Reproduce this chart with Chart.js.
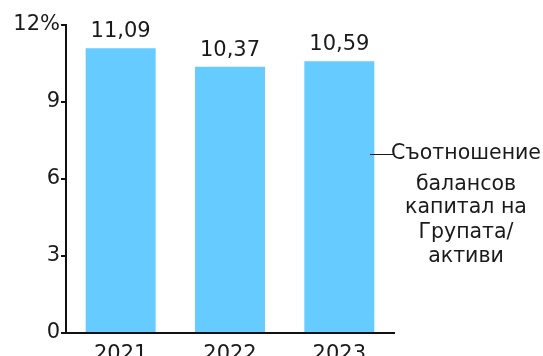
<!DOCTYPE html>
<html><head><meta charset="utf-8">
<script src="https://cdn.jsdelivr.net/npm/chart.js@4/dist/chart.umd.min.js"></script>
<style>html,body{margin:0;padding:0;background:#fff}#w{width:543px;height:356px}</style>
</head><body><div id="w"><canvas id="c" width="543" height="356"></canvas></div>
<script>
const categories = ['2021', '2022', '2023'];
const values = [11.09, 10.37, 10.59];
const yTicks = [0, 3, 6, 9, 12];
const seriesLabelLines = ['Съотношение', 'балансов', 'капитал на', 'Групата/', 'активи'];

const FONT = "'DejaVu Sans', Verdana, sans-serif";
const fmt = v => v.toFixed(2).replace('.', ',');

const dataLabels = {
  id: 'dataLabels',
  afterDatasetsDraw(chart) {
    const ctx = chart.ctx;
    const meta = chart.getDatasetMeta(0);
    ctx.save();
    ctx.font = '21px ' + FONT;
    ctx.fillStyle = '#1a1a1a';
    ctx.textAlign = 'center';
    ctx.textBaseline = 'bottom';
    meta.data.forEach((bar, i) => {
      ctx.fillText(fmt(values[i]), bar.x, bar.y - 6);
    });
    ctx.restore();
  }
};

const sideLegend = {
  id: 'sideLegend',
  afterDraw(chart) {
    const ctx = chart.ctx;
    const a = chart.chartArea;
    ctx.save();
    ctx.strokeStyle = '#1a1a1a';
    ctx.lineWidth = 1;
    const y0 = 154;
    ctx.beginPath();
    ctx.moveTo(a.right - 24, y0 + 0.5);
    ctx.lineTo(a.right - 1, y0 + 0.5);
    ctx.stroke();
    ctx.font = '20.5px ' + FONT;
    ctx.fillStyle = '#1a1a1a';
    ctx.textAlign = 'center';
    ctx.textBaseline = 'middle';
    const cx = 466;
    const ys = [154, 185, 208, 233, 257];
    seriesLabelLines.forEach((t, i) => ctx.fillText(t, cx, ys[i]));
    ctx.restore();
  }
};

new Chart(document.getElementById('c'), {
  type: 'bar',
  data: {
    labels: categories,
    datasets: [{
      label: seriesLabelLines.join(' '),
      data: values,
      backgroundColor: '#66CCFF',
      borderWidth: 0,
      categoryPercentage: 1,
      barPercentage: 0.64
    }]
  },
  options: {
    responsive: false,
    animation: false,
    layout: { padding: { top: 25, right: 149, bottom: 0, left: 0 } },
    plugins: { legend: { display: false }, tooltip: { enabled: false } },
    scales: {
      x: {
        grid: { display: false },
        border: { display: true, color: '#111', width: 2 },
        ticks: { color: '#1a1a1a', font: { family: FONT, size: 21 }, padding: 1 },
        afterFit(s) { s.height = 23; }
      },
      y: {
        min: 0, max: 12,
        afterBuildTicks(s) { s.ticks = yTicks.map(v => ({ value: v })); },
        grid: { display: true, drawOnChartArea: false, drawTicks: true, tickLength: 5, color: '#111', lineWidth: 2 },
        border: { display: true, color: '#111', width: 2 },
        ticks: {
          color: '#1a1a1a', font: { family: FONT, size: 21 }, padding: 1,
          callback: v => v === 12 ? '12%' : String(v)
        },
        afterFit(s) { s.width = 66; }
      }
    }
  },
  plugins: [dataLabels, sideLegend]
});
</script>
</body></html>
